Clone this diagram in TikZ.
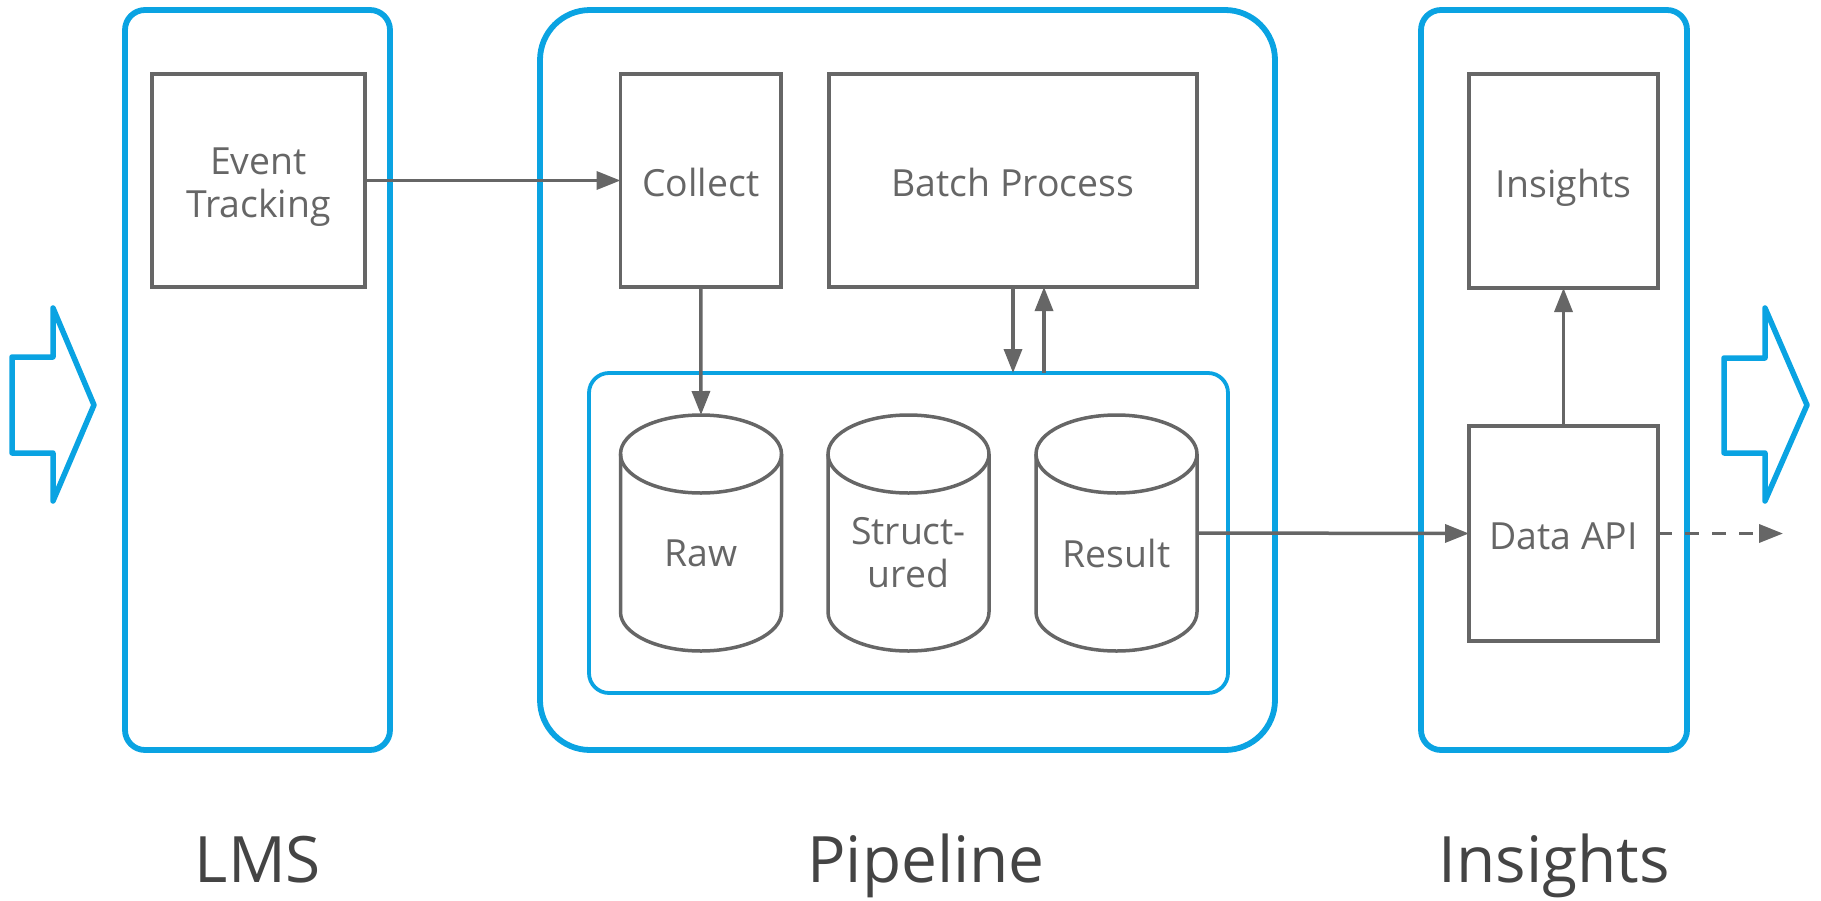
\documentclass[tikz,border=0pt]{standalone}
\usepackage{fontspec}
\setmainfont{Open Sans}
\usetikzlibrary{arrows.meta,calc}
\definecolor{cblue}{HTML}{0AA3E2}
\definecolor{cgray}{HTML}{666666}
\definecolor{clabel}{HTML}{444444}
\begin{document}
\begin{tikzpicture}[x=0.5pt,y=0.5pt,
  container/.style={draw=cblue,line width=2.9pt,inner sep=0pt,outer sep=0pt},
  innerbox/.style={draw=cblue,line width=1.9pt,rounded corners=10pt,inner sep=0pt,outer sep=0pt},
  procbox/.style={draw=cgray,line width=1.75pt,text=cgray,font=\fontsize{18.7}{21.5}\selectfont,align=center,inner sep=0pt,outer sep=0pt,text height=16pt,text depth=0pt},
  boxtext/.style={text=cgray,font=\fontsize{18.7}{21.5}\selectfont,align=center,inner sep=0pt},
  cylbox/.style={inner sep=0pt,outer sep=0pt,minimum width=80.5pt,minimum height=118pt},
  cylline/.style={draw=cgray,line width=1.75pt},
  grouplabel/.style={text=clabel,font=\fontsize{32}{38}\selectfont,anchor=base,inner sep=0pt},
  arr/.style={draw=cgray,line width=1.75pt,-{Triangle[length=12pt,width=9pt]}},
  dasharr/.style={arr,dash pattern=on 7pt off 6.5pt},
  bigarrow/.style={draw=cblue,line width=2.75pt,line join=round}
]
\useasboundingbox (0,0) rectangle (1821,-900);

% containers
\node[container,rounded corners=10pt,minimum width=132.5pt,minimum height=370pt] (lms) at (257.5,-380) {};
\node[container,rounded corners=25pt,minimum width=367.5pt,minimum height=370pt] (pipe) at (907.5,-380) {};
\node[container,rounded corners=10pt,minimum width=133pt,minimum height=370pt] (insc) at (1554,-380) {};
\node[innerbox,minimum width=319.5pt,minimum height=160pt] (store) at (908.5,-533) {};

% side arrows
\draw[bigarrow] (12,-357) -- (53,-357) -- (53,-308) -- (94,-405) -- (53,-501) -- (53,-453) -- (12,-453) -- cycle;
\draw[bigarrow] (1724,-358) -- (1765,-358) -- (1765,-308) -- (1807,-405) -- (1765,-501) -- (1765,-453) -- (1724,-453) -- cycle;

% process boxes
\node[procbox,minimum width=106.5pt,minimum height=106.5pt] (event) at (258.5,-180.5) {};
\node[boxtext] (eventtext) at ($(event.center)+(0,-7)$) {Event\\Tracking};
\node[procbox,minimum width=80.25pt,minimum height=106.5pt] (collect) at (700.75,-180.5) {Collect};
\node[procbox,minimum width=184pt,minimum height=106.5pt] (batch) at (1013,-180.5) {Batch Process};
\node[procbox,minimum width=94.5pt,minimum height=107pt] (insights) at (1563.5,-181) {Insights};
\node[procbox,minimum width=94.5pt,minimum height=107.5pt] (dataapi) at (1563.5,-533.5) {Data API};

% cylinders
\foreach \n/\x in {raw/701,struct/908.5,result/1116.5}{
  \node[cylbox] (\n) at (\x,-533) {};
  \draw[cylline] ($(\n.north west)+(0,-39)$) -- ($(\n.south west)+(0,39)$)
     arc[start angle=180,end angle=360,x radius=80.5,y radius=39]
     -- ($(\n.north east)+(0,-39)$);
  \draw[cylline] ($(\n.north)+(0,-39)$) ellipse[x radius=80.5,y radius=39];
}
\node[boxtext] (rawtext) at ($(raw.center)+(0,-20)$) {Raw};
\node[boxtext] (structtext) at ($(struct.center)+(0,-20)$) {Struct-\\ured};
\node[boxtext] (resulttext) at ($(result.center)+(0,-20)$) {Result};

% group labels
\node[grouplabel] (lmslabel) at (258,-882) {LMS};
\node[grouplabel] (pipelabel) at (926,-882) {Pipeline};
\node[grouplabel] (insightslabel) at (1554,-882) {Insights};

% connectors
\coordinate (up) at ($(batch.south)+(31,0)$);
\coordinate (out) at (1783,-533.5);
\draw[arr] (event.east) -- (collect.west);
\draw[arr] (collect.south) -- (raw.north);
\draw[arr] (batch.south) -- (batch.south |- store.north);
\draw[arr] (up |- store.north) -- (up);
\draw[arr] (result.east) -- (dataapi.west);
\draw[arr] (dataapi.north) -- (insights.south);
\draw[dasharr] (dataapi.east) -- (out);
\end{tikzpicture}
\end{document}
